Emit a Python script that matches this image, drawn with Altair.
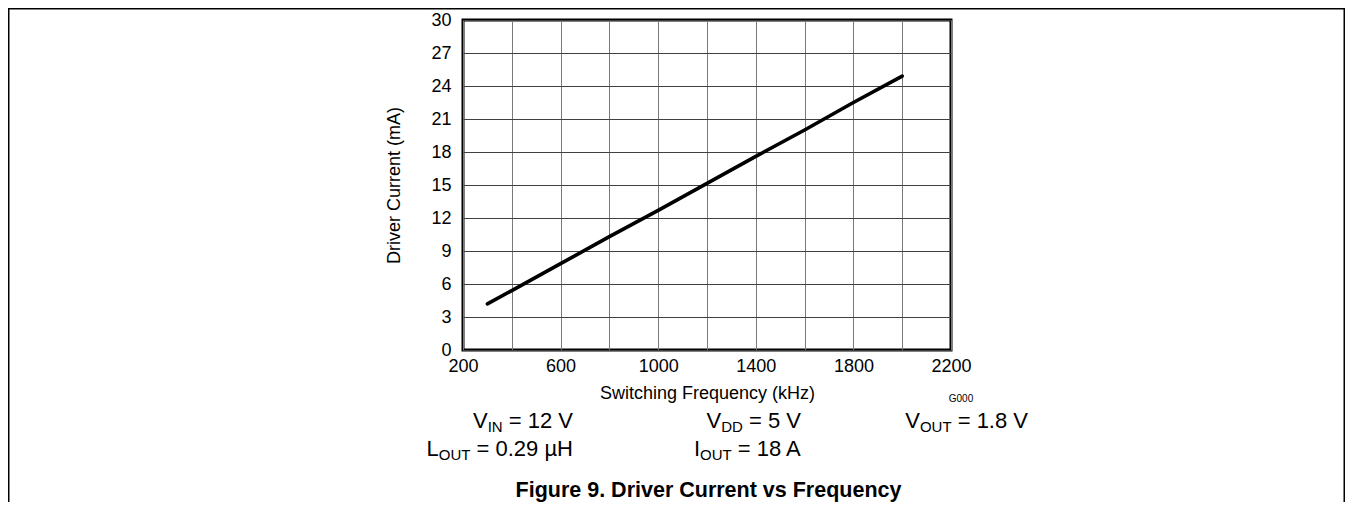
import altair as alt
import pandas as pd

# ---------------- data ----------------
freq_khz = [300, 400, 600, 800, 1000, 1200, 1400, 1600, 1800, 2000]
driver_current_ma = [4.2, 5.4, 7.85, 10.3, 12.7, 15.15, 17.6, 20.0, 22.5, 24.9]

x_ticks = list(range(200, 2201, 200))
y_ticks = list(range(0, 31, 3))
x_title = "Switching Frequency (kHz)"
y_title = "Driver Current (mA)"
caption = "Figure 9. Driver Current vs Frequency"
graph_id = "G000"

cond_main = ["V", "V", "V", "L", "I"]
cond_sub = ["IN", "DD", "OUT", "OUT", "OUT"]
cond_value = ["= 12 V", "= 5 V", "= 1.8 V", "= 0.29 µH", "= 18 A"]

# ---------------- layout ----------------
FONT = "Liberation Sans"
PAD_L, PAD_T = 455, 12
W, H = 488, 330
SVG_W, SVG_H = 1337, 494
OX, OY = 8 + PAD_L, 8 + PAD_T  # page position of plot origin

MAIN_SIZE, SUB_SIZE, SUB_DROP = 22, 15, 4
cond_right = [573, 801, 1028, 573, 802]   # page x of right edges
cond_base = [428, 428, 428, 456, 456]     # page y of baselines

# Arial / Liberation Sans advance widths (per 1000 em)
ADV = {" ": 278, "=": 584, ".": 278, "A": 667, "D": 722, "H": 722, "I": 278,
       "L": 556, "N": 722, "O": 778, "T": 611, "U": 722, "V": 667, "µ": 576}
for d in "0123456789":
    ADV[d] = 556


def text_w(s, size):
    return sum(ADV.get(ch, 556) for ch in s) * size / 1000.0


df = pd.DataFrame({"freq": freq_khz, "current": driver_current_ma})

line = alt.Chart(df).mark_line(color="black", strokeWidth=3.6, strokeCap="round").encode(
    x=alt.X("freq:Q",
            scale=alt.Scale(domain=[200, 2200], nice=False, zero=False),
            axis=alt.Axis(values=x_ticks, format="d",
                          labelExpr="(datum.value - 200) % 400 == 0 ? datum.label : ''",
                          ticks=False, tickSize=0, domain=False, grid=True,
                          gridColor="#7a7a7a", gridWidth=1,
                          labelFontSize=18, labelPadding=7, labelFlush=False,
                          labelOverlap=False,
                          title=x_title, titleFontSize=18, titleFontWeight="normal",
                          titleY=48, titleBaseline="alphabetic")),
    y=alt.Y("current:Q",
            scale=alt.Scale(domain=[0, 30], nice=False),
            axis=alt.Axis(values=y_ticks, ticks=False, tickSize=0, domain=False,
                          grid=True, gridColor="#404040", gridWidth=1,
                          labelFontSize=18, labelPadding=12, labelOverlap=False,
                          title=y_title, titleFontSize=18, titleFontWeight="normal",
                          titleX=-69, titleY=H / 2, titleAngle=270,
                          titleAlign="center", titleBaseline="middle")),
)

layers = [line]


def txt(s, px, py, size, align="left", baseline="alphabetic", weight="normal"):
    return alt.Chart(pd.DataFrame({"t": [s]})).mark_text(
        font=FONT, fontSize=size, align=align, baseline=baseline,
        fontWeight=weight, color="black"
    ).encode(text="t:N", x=alt.value(px - OX), y=alt.value(py - OY))


SPACE = text_w(" ", MAIN_SIZE)
for m, sb, v, r, b in zip(cond_main, cond_sub, cond_value, cond_right, cond_base):
    total = text_w(m, MAIN_SIZE) + text_w(sb, SUB_SIZE) + SPACE + text_w(v, MAIN_SIZE)
    x0 = r - total
    layers.append(txt(m, x0, b, MAIN_SIZE))
    x1 = x0 + text_w(m, MAIN_SIZE)
    layers.append(txt(sb, x1, b + SUB_DROP, SUB_SIZE))
    x2 = x1 + text_w(sb, SUB_SIZE) + SPACE
    layers.append(txt(v, x2, b, MAIN_SIZE))

layers.append(txt(graph_id, 961, 399, 10, align="center", baseline="middle"))
layers.append(txt(caption, 708.5, 497, 21.5, align="center", weight="bold"))


# page frame lines (datasheet table border)
def rule(x1, y1, x2, y2):
    return alt.Chart(pd.DataFrame({"a": [0]})).mark_rule(color="black", strokeWidth=1.5).encode(
        x=alt.value(x1 - OX), x2=alt.value(x2 - OX),
        y=alt.value(y1 - OY), y2=alt.value(y2 - OY))


RIGHT_EDGE = 8 + SVG_W - 0.75
BOTTOM_EDGE = 8 + SVG_H
layers.append(rule(8.75, 8.75, RIGHT_EDGE, 8.75))
layers.append(rule(8.75, 8, 8.75, BOTTOM_EDGE))
layers.append(rule(RIGHT_EDGE, 8, RIGHT_EDGE, BOTTOM_EDGE))

chart = alt.layer(*layers).properties(
    width=W, height=H,
    padding={"left": PAD_L, "top": PAD_T,
             "right": SVG_W - PAD_L - W, "bottom": SVG_H - PAD_T - H},
    autosize=alt.AutoSizeParams(type="none"),
    background="white",
).configure_view(stroke="black", strokeWidth=3).configure_axis(
    labelFont=FONT, titleFont=FONT, labelColor="black", titleColor="black"
)

chart.save("out.html", embed_options={"renderer": "svg", "actions": False})
